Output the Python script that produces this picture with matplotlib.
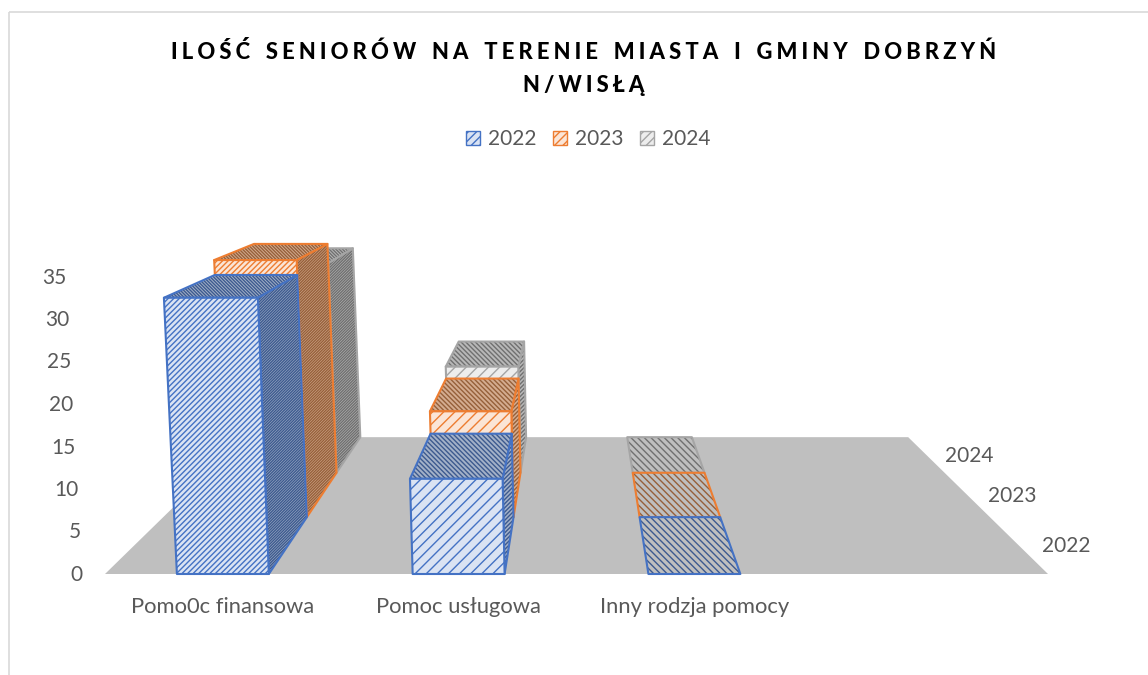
import matplotlib
matplotlib.use("Agg")
from matplotlib import pyplot as plt
from matplotlib.patches import Patch, Polygon, Rectangle

plt.rcParams['font.family'] = ['Lato', 'DejaVu Sans']
plt.rcParams['hatch.linewidth'] = 1.0

categories = ["Pomo0c finansowa", "Pomoc usługowa", "Inny rodzja pomocy", ""]
years = ["2022", "2023", "2024"]
values_2022 = [32.5, 11.2, 0]
values_2023 = [34.5, 14.2, 0]
values_2024 = [31.6, 16, 0]
y_ticks = [0, 5, 10, 15, 20, 25, 30, 35]

title_lines = ["ILOŚĆ SENIORÓW NA TERENIE MIASTA I GMINY DOBRZYŃ", "N/WISŁĄ"]

# colours per series: front face, front stripes, outline, side/top face, side/top stripes
front_face = ["#dae3f3", "#fbe5d6", "#ededed"]
front_hatch = ["#4472c4", "#ed7d31", "#a5a5a5"]
outline = ["#4472c4", "#ed7d31", "#a5a5a5"]
dark_face = ["#a3b1c8", "#d4ac90", "#b8b8b8"]
dark_hatch = ["#3d5a8f", "#96603a", "#707070"]
text_color = "#595959"

# projection of the 3D chart onto the picture, in pixels
front_left = 105
cat_width = 235.75
base_y = 574
px_per_unit = 8.5
vp_x, vp_y = 577, 113
depth_k = 0.1407
tilt_x, tilt_m = 765, 8e-5
bar_width = 0.39


def project(x, depth, value):
    """Category position, series depth and value to pixel position."""
    h = value * px_per_unit
    px = front_left + x * cat_width
    px = tilt_x + (px - tilt_x) * (1 + tilt_m * h)
    s = 1 / (1 + depth_k * depth)
    return vp_x + (px - vp_x) * s, vp_y + (base_y - h - vp_y) * s


def face(ax, points, color, edge, hatch, line_color=None, zorder=2):
    ax.add_patch(Polygon(points, closed=True, facecolor=color, edgecolor=edge, hatch=hatch, linewidth=0, zorder=zorder))
    if line_color:
        ax.add_patch(Polygon(points, closed=True, fill=False, edgecolor=line_color, linewidth=1.5, joinstyle="round", zorder=zorder))


def draw_bar(ax, cat, row, value):
    left = cat + 0.5 - bar_width / 2
    right = cat + 0.5 + bar_width / 2
    near, far = row, row + 1
    color = outline[row]
    # category 1 has the tight pattern, the bitmap fill gets coarser on the others
    front_pat = "/" * 6 if cat == 0 else "/" * 3
    side_pat = "/" * 12 if cat == 0 else "/" * 8
    top_pat = "\\" * 10 if cat == 0 else "\\" * 7

    top = [project(left, near, value), project(right, near, value), project(right, far, value), project(left, far, value)]
    if value == 0:
        face(ax, top, "#bfbfbf", dark_hatch[row], "\\" * 5, color)
        return
    side = [project(right, near, 0), project(right, far, 0), project(right, far, value), project(right, near, value)]
    front = [project(left, near, 0), project(right, near, 0), project(right, near, value), project(left, near, value)]
    face(ax, side, dark_face[row], dark_hatch[row], side_pat, color)
    face(ax, top, dark_face[row], dark_hatch[row], top_pat, color)
    face(ax, front, front_face[row], front_hatch[row], front_pat, color)


fig = plt.figure(figsize=(11.48, 6.75), dpi=100)
ax = fig.add_axes([0, 0, 1, 1])
ax.set_xlim(0, 1148)
ax.set_ylim(675, 0)
ax.axis("off")

# chart frame runs off the right and bottom of the screenshot
ax.add_patch(Rectangle((8.5, 11.5), 1160, 680, fill=False, edgecolor="#d9d9d9", linewidth=1.2, clip_on=True))

n_cat = len(categories)
n_year = len(years)
floor = [project(0, 0, 0), project(n_cat, 0, 0), project(n_cat, n_year, 0), project(0, n_year, 0)]
ax.add_patch(Polygon(floor, closed=True, facecolor="#bfbfbf", edgecolor="none", zorder=1))

all_values = [values_2022, values_2023, values_2024]
for row in range(n_year - 1, -1, -1):
    for cat, value in enumerate(all_values[row]):
        draw_bar(ax, cat, row, value)

for v in y_ticks:
    x, y = project(-0.094, 0, v)
    ax.text(x, y + 1, str(v), ha="right", va="center", fontsize=15, color=text_color)

for i, label in enumerate(categories):
    x, y = project(i + 0.5, 0, 0)
    ax.text(x, y + 33, label, ha="center", va="center", fontsize=15.8, color=text_color)

for row, year in enumerate(years):
    x, y = project(4.115, row + 0.5, 0)
    ax.text(x, y + 2, year, ha="left", va="center", fontsize=15, color=text_color)

# letter spacing of the title, hair spaces between the glyphs
gap = "\u200a" * 3
spaced = [gap.join(line).replace(gap + " " + gap, "   ") for line in title_lines]
ax.text(584, 52, spaced[0], ha="center", va="center", fontsize=15.8, fontweight=900, color="black")
ax.text(584, 85, spaced[1], ha="center", va="center", fontsize=15.8, fontweight=900, color="black")

handles = [Patch(facecolor=front_face[i], edgecolor=outline[i], hatch="////", label=years[i]) for i in range(n_year)]
fig.legend(handles=handles, loc="center", bbox_to_anchor=(0.5125, 0.794), ncols=3, frameon=False, fontsize=15,
           labelcolor=text_color, handlelength=0.65, handleheight=0.65, handletextpad=0.4, columnspacing=0.8)

fig.savefig("out.png", dpi=100)
